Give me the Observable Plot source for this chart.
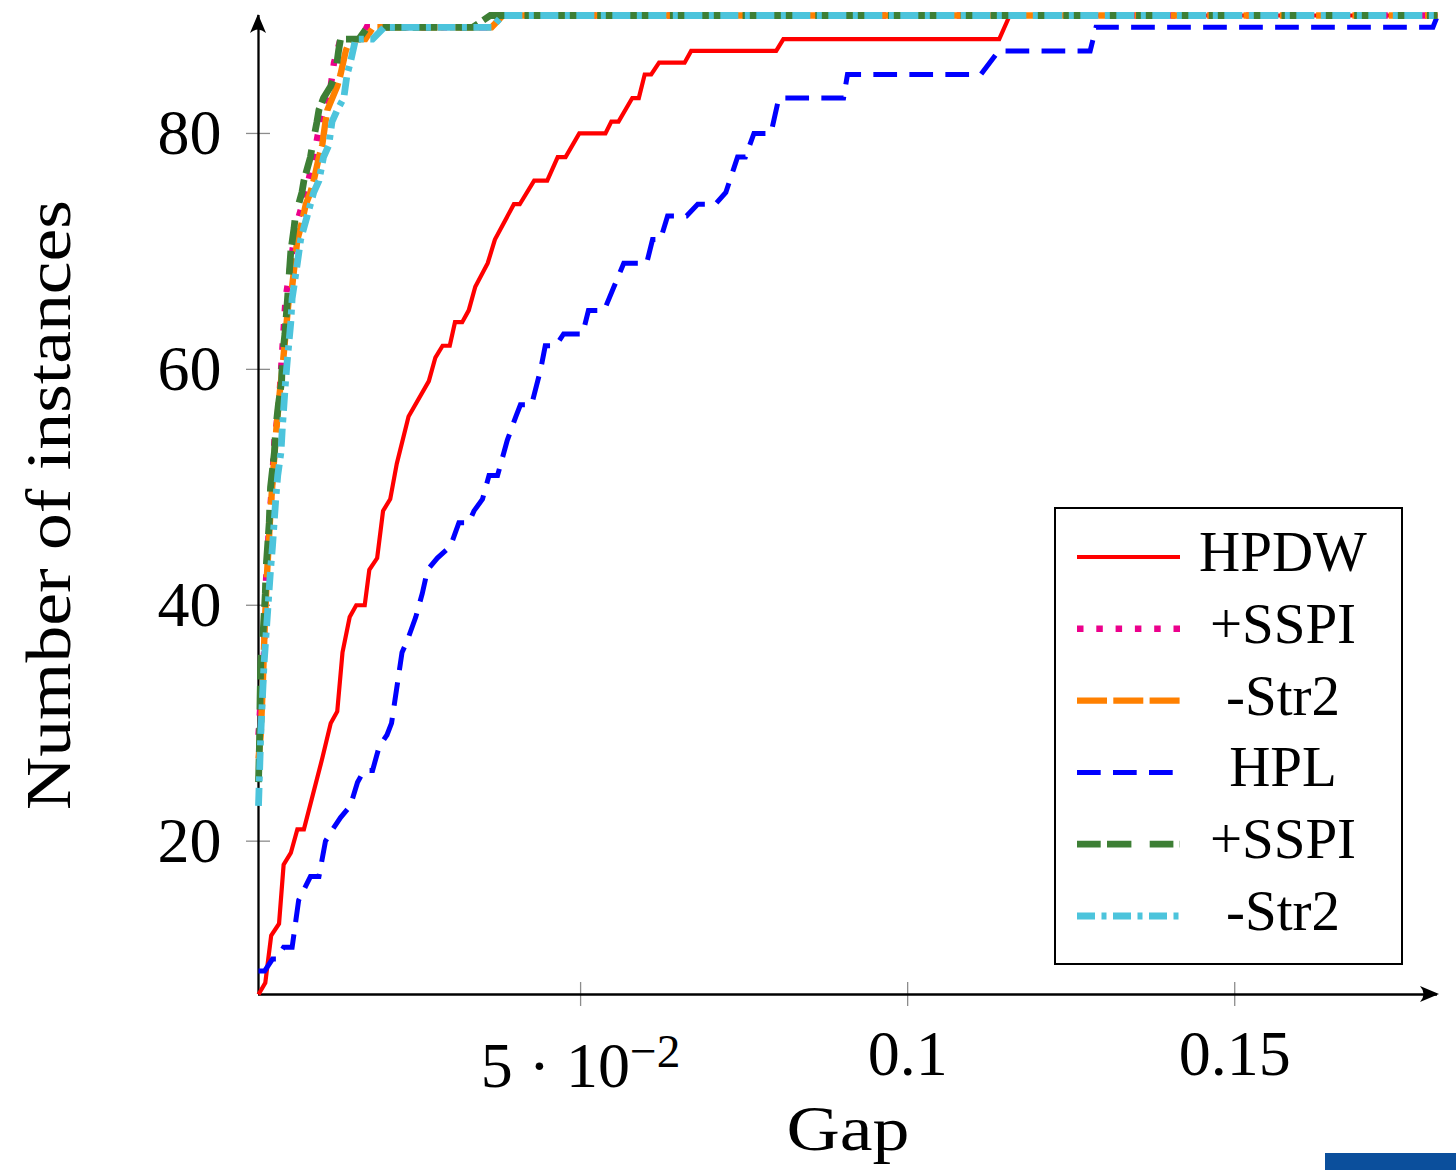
<!DOCTYPE html>
<html>
<head>
<meta charset="utf-8">
<script src="https://cdn.jsdelivr.net/npm/d3@7"></script>
<script src="https://cdn.jsdelivr.net/npm/@observablehq/plot@0.6"></script>
<style>
  html, body { margin: 0; padding: 0; background: #fff; }
  #wrap { position: relative; width: 1456px; height: 1170px; overflow: hidden; }
  #corner { position: absolute; left: 1325px; top: 1153px; width: 131px; height: 17px; background: #0b4f9c; }
</style>
</head>
<body>
<div id="wrap"><div id="corner"></div></div>
<script>
// ---------------- data ----------------
const seriesNames = ["HPDW", "+SSPI", "-Str2", "HPL", "+SSPI", "-Str2"];

const hpdwGap = [0.00076,0.0018,0.0027,0.0039,0.0046,0.0057,0.0067,0.0077,0.0105,0.0118,0.0128,0.0136,0.0147,0.0157,0.0170,0.0177,0.0189,0.0198,0.0209,0.0219,0.0237,0.0268,0.0278,0.0289,0.0300,0.0308,0.0319,0.0329,0.0339,0.0358,0.0369,0.0398,0.0407,0.0429,0.0449,0.0465,0.0477,0.0498,0.0538,0.0547,0.0558,0.0579,0.0589,0.0598,0.0608,0.0620,0.0659,0.0669,0.0799,0.0810,0.1140,0.1156,0.181];
const hpdwCount = [7,8,12,13,18,19,21,21,27,30,31,36,39,40,40,43,44,48,49,52,56,59,61,62,62,64,64,65,67,69,71,74,74,76,76,78,78,80,80,81,81,83,83,85,85,86,86,87,87,88,88,90,90];

const hpdwSspiGap = [0.00076,0.0011,0.0016,0.0019,0.0024,0.0028,0.0032,0.0039,0.0041,0.0049,0.0057,0.0064,0.0080,0.0092,0.0102,0.0118,0.0123,0.0133,0.0164,0.0173,0.0355,0.0372,0.181];
const hpdwSspiCount = [29,32,36,42,47,50,54,57,59,66,69,72,75,78,81,84,86,88,88,89,89,90,90];

const hpdwStr2Gap = [0.00076,0.0011,0.0014,0.0017,0.0020,0.0023,0.0026,0.0031,0.0035,0.0040,0.0044,0.0049,0.0054,0.0059,0.0067,0.0072,0.0080,0.0087,0.0092,0.0100,0.0105,0.0110,0.0113,0.0128,0.0133,0.0141,0.0148,0.0171,0.0183,0.0364,0.0381,0.181];
const hpdwStr2Count = [27,29,33,38,42,45,48,52,55,58,60,63,66,67,71,72,74,75,76,78,79,81,82,84,85,87,88,88,89,89,90,90];

const hplGap = [0.00076,0.0017,0.0029,0.0035,0.0046,0.0059,0.0069,0.0078,0.0087,0.0100,0.0110,0.0121,0.0133,0.0148,0.0159,0.0169,0.0182,0.0192,0.0204,0.0211,0.0219,0.0227,0.0235,0.0248,0.0258,0.0266,0.0281,0.0301,0.0314,0.0329,0.0337,0.0350,0.0360,0.0373,0.0388,0.0401,0.0408,0.0425,0.0439,0.0446,0.0462,0.0474,0.0503,0.0512,0.0536,0.0551,0.0566,0.0601,0.0610,0.0622,0.0633,0.0662,0.0679,0.0706,0.0722,0.0734,0.0740,0.0752,0.0765,0.0791,0.0803,0.0902,0.0908,0.1112,0.1139,0.1279,0.1288,0.1803,0.181];
const hplCount = [9,9,10,10,11,11,15,16,17,17,20,21,22,23,25,26,26,28,29,30,33,36,37,39,41,43,44,45,47,47,48,49,51,51,54,56,57,57,60,62,62,63,63,65,65,67,69,69,71,71,73,73,74,74,75,77,78,78,80,80,83,83,85,85,87,87,89,89,90];

const hplSspiGap = [0.00076,0.0009,0.0010,0.0011,0.0014,0.0018,0.0019,0.0024,0.0026,0.0032,0.0034,0.0038,0.0043,0.0044,0.0048,0.0052,0.0057,0.0062,0.0064,0.0074,0.0077,0.0087,0.0090,0.0097,0.0100,0.0107,0.0118,0.0125,0.0130,0.0133,0.0161,0.0174,0.0335,0.0362,0.181];
const hplSspiCount = [25,28,32,35,37,41,43,47,50,53,55,57,59,61,63,66,70,72,73,75,76,78,79,81,82,83,84,85,87,88,88,89,89,90,90];

const hplStr2Gap = [0.00076,0.0011,0.0016,0.0021,0.0026,0.0029,0.0034,0.0037,0.0042,0.0044,0.0049,0.0052,0.0057,0.0059,0.0067,0.0072,0.0082,0.0092,0.0100,0.0107,0.0115,0.0120,0.0128,0.0138,0.0143,0.0148,0.0156,0.0182,0.0200,0.0364,0.0381,0.181];
const hplStr2Count = [23,29,35,39,43,45,49,51,53,55,59,61,64,66,69,71,73,75,76,78,79,81,82,83,85,86,88,88,89,89,90,90];

const xTicks = [0.05, 0.1, 0.15];
const xTickLabels = ["5 · 10−2", "0.1", "0.15"];
const yTicks = [20, 40, 60, 80];
const xLabel = "Gap";
const yLabel = "Number of instances";

// ---------------- styles ----------------
const styles = [
  {color: "#ff0000", width: 4.2, dash: null},
  {color: "#ec008c", width: 6.4, dash: "6.5,12.8"},
  {color: "#ff8000", width: 6.4, dash: "30,6.3"},
  {color: "#0000ff", width: 5.0, dash: "23.7,12.3"},
  {color: "#3d7f35", width: 6.8, dash: "23.7,6.3,24.4,18.3"},
  {color: "#4cc4dc", width: 6.8, dash: "18,6.5,5,6.5"}
];

const gaps = [hpdwGap, hpdwSspiGap, hpdwStr2Gap, hplGap, hplSspiGap, hplStr2Gap];
const counts = [hpdwCount, hpdwSspiCount, hpdwStr2Count, hplCount, hplSspiCount, hplStr2Count];
const tables = gaps.map((g, s) => g.map((v, i) => ({series: s, gap: v, count: counts[s][i]})));

const X0 = d3.min(gaps.flat()), X1 = d3.max(gaps.flat());
const Y0 = d3.min(counts.flat()), Y1 = d3.max(counts.flat());

const W = 1456, H = 1170, mL = 258, mR = 19, mT = 15, mB = 176;
const frameW = W - mL - mR, frameH = H - mT - mB;
const FONT = "'Liberation Serif', 'Times New Roman', serif";

const lineMarks = tables.map((t, s) => Plot.line(t, {
  x: "gap", y: "count",
  stroke: styles[s].color,
  strokeWidth: styles[s].width,
  strokeDasharray: styles[s].dash,
  strokeLinecap: "butt",
  strokeLinejoin: "miter",
  strokeMiterlimit: 4
}));

const plot = Plot.plot({
  width: W, height: H,
  marginLeft: mL, marginRight: mR, marginTop: mT, marginBottom: mB,
  x: {domain: [X0, X1]},
  y: {domain: [Y0, Y1]},
  style: {fontFamily: FONT, background: "transparent", color: "black"},
  marks: [
    // tick marks crossing the axes
    Plot.tickY(yTicks, {y: d => d, stroke: "#8c8c8c", strokeWidth: 1.3, insetRight: frameW - 24, dx: -12}),
    Plot.tickX(xTicks, {x: d => d, stroke: "#8c8c8c", strokeWidth: 1.3, insetTop: frameH - 24, dy: 12}),
    // tick labels
    Plot.axisY({ticks: yTicks, tickSize: 0, tickPadding: 37, fontSize: 64, label: null, fill: "black"}),
    Plot.axisX({ticks: xTicks, tickSize: 0, tickPadding: 35, fontSize: 64, label: null, fill: "black",
      tickFormat: d => xTickLabels[xTicks.indexOf(d)]}),
    // axis titles
    Plot.text([xLabel], {frameAnchor: "bottom", text: d => d, dy: 135, fontSize: 63, fill: "black",
      textAnchor: "middle", lineAnchor: "middle"}),
    Plot.text([yLabel], {frameAnchor: "left", text: d => d, rotate: -90, dx: -209, fontSize: 63, fill: "black",
      textAnchor: "middle", lineAnchor: "middle"}),
    // axis lines
    Plot.ruleY([Y0], {x1: X0, x2: X1, stroke: "black", strokeWidth: 2.3}),
    Plot.ruleX([X0], {y1: Y0, y2: Y1, stroke: "black", strokeWidth: 2.3}),
    ...lineMarks
  ]
});

document.getElementById("wrap").prepend(plot);
plot.style.position = "absolute";
plot.style.left = "0px";
plot.style.top = "0px";

const svg = d3.select(plot);
const sx = plot.scale("x"), sy = plot.scale("y");

// filled arrow heads at the ends of the axis lines
function head(x, y, angle) {
  svg.append("path")
    .attr("d", "M0,0 L-19,-8 Q-12,0 -19,8 Z")
    .attr("fill", "black")
    .attr("transform", `translate(${x},${y}) rotate(${angle})`);
}
head(sx.apply(X1) + 2, sy.apply(Y0), 0);
head(sx.apply(X0), sy.apply(Y1) - 1, -90);

// superscript exponent on the 5·10−2 label
svg.selectAll("text").each(function () {
  const t = d3.select(this);
  if (this.textContent === xTickLabels[0]) {
    t.text(null);
    t.append("tspan").text("5 · 10");
    t.append("tspan").attr("dy", "-0.42em").attr("font-size", "0.74em").text("−2");
    const tr = t.attr("transform");
    if (tr) t.attr("transform", tr + " translate(0,12)");
    else t.attr("y", (+t.attr("y") || 0) + 12);
  }
  if (this.textContent === yLabel) t.attr("textLength", 610).attr("lengthAdjust", "spacingAndGlyphs");
  if (this.textContent === xLabel) t.attr("textLength", 123).attr("lengthAdjust", "spacingAndGlyphs");
});

// legend
const lg = svg.append("g").attr("font-family", FONT);
lg.append("rect").attr("x", 1055).attr("y", 508).attr("width", 347).attr("height", 456)
  .attr("fill", "white").attr("stroke", "black").attr("stroke-width", 2);
seriesNames.forEach((name, i) => {
  const cy = 557 + i * 71.8;
  const st = styles[i];
  lg.append("line").attr("x1", 1077).attr("x2", 1180).attr("y1", cy).attr("y2", cy)
    .attr("stroke", st.color).attr("stroke-width", st.width)
    .attr("stroke-dasharray", st.dash).attr("stroke-linecap", "butt");
  lg.append("text").attr("x", 1283).attr("y", cy + 14).attr("text-anchor", "middle")
    .attr("font-size", 57).attr("fill", "black").text(name);
});
</script>
</body>
</html>
